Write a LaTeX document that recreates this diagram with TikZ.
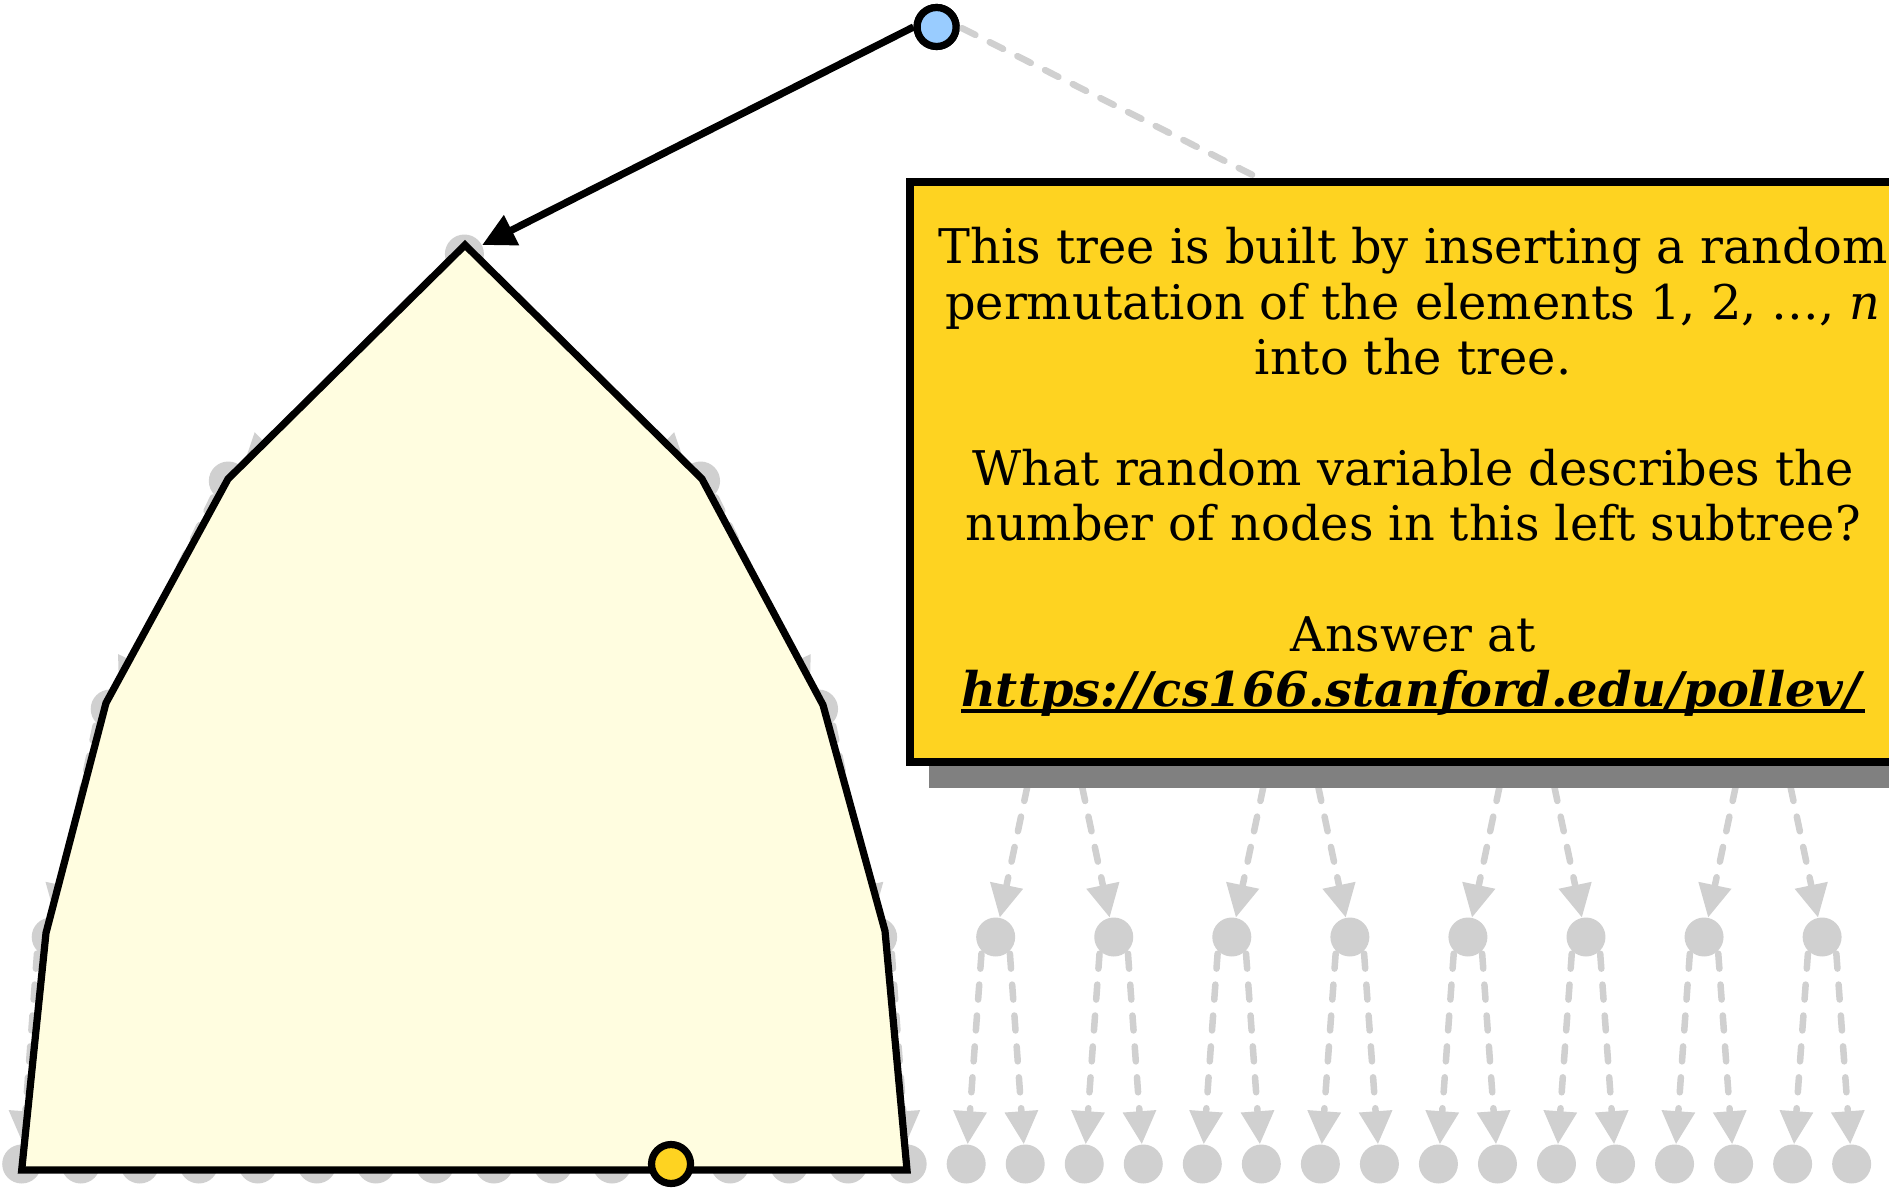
\documentclass[tikz,border=0pt]{standalone}
\usepackage{fontspec}
\setmainfont{DejaVu Serif}
\usepackage{xcolor}
\usepackage{tikz}
\usetikzlibrary{arrows.meta,shadows}

\definecolor{treegrey}{HTML}{D0D0D0}
\definecolor{subtreefill}{HTML}{FFFDE0}
\definecolor{boxgold}{HTML}{FED321}
\definecolor{rootblue}{HTML}{99CCFF}
\definecolor{shadowgrey}{HTML}{808080}

\newcommand{\urlline}[1]{\setbox0\hbox{#1}\rlap{\rule[-3.4pt]{\wd0}{1.8pt}}\box0}

\begin{document}
\begin{tikzpicture}[x=0.02cm, y=-0.02cm,
    >={Triangle[length=0.66cm,width=0.64cm]},
    treenode/.style={circle, fill=treegrey, minimum size=0.78cm, inner sep=0pt},
    treeedge/.style={->, treegrey, line width=3.7pt, dash pattern=on 0.3cm off 0.32cm, line cap=round, shorten <=1.5pt},
    subtree/.style={draw, fill=subtreefill, line width=4.1pt},
    rootnode/.style={circle, draw, fill=rootblue, line width=4.1pt, minimum size=0.78cm, inner sep=0pt},
    pivot/.style={rootnode, fill=boxgold},
    pathedge/.style={->, line width=4.1pt},
    question/.style={rectangle, draw, fill=boxgold, line width=4.2pt, minimum width=20.12cm, minimum height=11.6cm,
        align=center, font=\fontsize{27.2}{31.5}\selectfont,
        drop shadow={shadow xshift=0.38cm, shadow yshift=-0.53cm, fill=shadowgrey, opacity=1}},
]
    \useasboundingbox (0,0) rectangle (1889,1192);
    \clip (0,0) rectangle (1889,1192);

    \node[rootnode] (root) at (936.6,27) {};
    \foreach \k in {0,1} \node[treenode] (l1-\k) at ({464.4+944.5*\k},254) {};
    \foreach \k in {0,...,3} \node[treenode] (l2-\k) at ({228.3+472.25*\k},481) {};
    \foreach \k in {0,...,7} \node[treenode] (l3-\k) at ({110.2+236.12*\k},709) {};
    \foreach \k in {0,...,15} \node[treenode] (l4-\k) at ({51.2+118.06*\k},937) {};
    \foreach \k in {0,...,31} \node[treenode] (l5-\k) at ({21.7+59.03*\k},1164) {};

    \foreach \p/\c/\m in {1/2/1, 2/3/3, 3/4/7, 4/5/15} {
        \foreach \k in {0,...,\m} {
            \pgfmathtruncatemacro\lft{2*\k}
            \pgfmathtruncatemacro\rgt{2*\k+1}
            \draw[treeedge] (l\p-\k.south west) -- (l\c-\lft);
            \draw[treeedge] (l\p-\k.south east) -- (l\c-\rgt);
        }
    }
    \draw[treeedge] (root.east) -- (l1-1);

    \draw[subtree] (21.7,1170) -- (46,933) -- (106,703) -- (228,479) -- (465,245)
        -- (702,479) -- (823,705) -- (885,931) -- (907,1170) -- cycle;
    \draw[pathedge] (root.west) -- (l1-0);
    \node[rootnode] at (root) {};
    \node[pivot] (pick) at (l5-11) {};

    \node[question] (quiz) at (1413,472) {This tree is built by inserting a random\\
        permutation of the elements 1, 2, …, \textit{n}\\
        into the tree.\\ ~\\
        What random variable describes the\\
        number of nodes in this left subtree?\\ ~\\
        Answer at\\
        \urlline{\textbf{\textit{https://cs166.stanford.edu/pollev/}}}};
\end{tikzpicture}
\end{document}
